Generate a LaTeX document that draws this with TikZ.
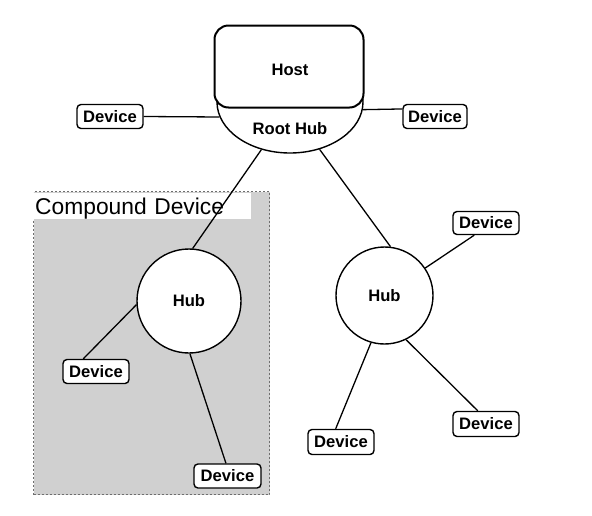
\documentclass[tikz,border=0pt]{standalone}
\usepackage{fontspec}
\setmainfont{Liberation Sans}
\usetikzlibrary{shapes.geometric}
\definecolor{regiongray}{RGB}{208,208,208}
\definecolor{borderdark}{RGB}{110,110,110}
\begin{document}
\begin{tikzpicture}[x=1pt,y=-1pt,
  devbox/.style={draw, rounded corners=4pt, line width=1.4pt, fill=white,
    minimum width=65pt, minimum height=24pt, inner sep=0pt,
    font=\fontsize{16.6}{19}\selectfont\bfseries},
  hubnode/.style={draw, circle, line width=1.4pt, fill=white, inner sep=0pt,
    font=\fontsize{16.6}{19}\selectfont\bfseries},
  txt/.style={inner sep=0pt, font=\fontsize{16.6}{19}\selectfont\bfseries},
  link/.style={line width=1.3pt}]
\useasboundingbox (0,0) rectangle (592,515);
% compound device region
\node[fill=regiongray, draw=borderdark, dash pattern=on 2pt off 2pt, line width=1pt,
  minimum width=236pt, minimum height=303pt, inner sep=0pt, anchor=north west] (compound) at (33,191) {};
\node[fill=white, anchor=north west, text height=19pt, text depth=3pt, text width=214pt, inner sep=2pt,
  font=\fontsize{22.8}{26}\selectfont] (cdlabel) at (33,193) {Compound Device};
% root hub and host
\node[ellipse, draw, fill=white, line width=1.4pt, minimum width=146pt, minimum height=102pt, inner sep=0pt] (root) at (290,102) {};
\node[txt] (roottxt) at (290,129) {Root Hub};
\node[draw, rounded corners=14pt, line width=2pt, fill=white, minimum width=149pt, minimum height=82pt, inner sep=0pt] (host) at (289,66.5) {};
\node[txt] (hosttxt) at (290,70) {Host};
% hubs
\node[hubnode, minimum size=104pt] (hubL) at (189,301) {Hub};
\node[hubnode, minimum size=97pt] (hubR) at (384.5,295.5) {Hub};
% devices
\node[devbox, minimum width=66pt] (devTL) at (110,116.5) {Device};
\node[devbox, minimum width=64pt] (devTR) at (435,116.5) {Device};
\node[devbox, minimum width=66pt, minimum height=23pt] (devR) at (486,223) {Device};
\node[devbox, minimum width=66pt] (devL) at (96,371.5) {Device};
\node[devbox, minimum width=67pt] (devB) at (227.5,476) {Device};
\node[devbox, minimum width=66pt, minimum height=25pt] (devBM) at (341,442) {Device};
\node[devbox, minimum width=66pt, minimum height=25pt] (devBR) at (486,424) {Device};
% connectors
\draw[link] (devTL.east) -- (root.192);
\draw[link] (root.354.4) -- (devTR.167.7);
\draw[link] (root.239.7) -- (hubL.86.7);
\draw[link] (root.302) -- (hubR.83);
\draw[link] (hubL.184.4) -- (devL.135);
\draw[link] (hubL.271) -- (devB.97);
\draw[link] (hubR.34) -- (devR.226);
\draw[link] (hubR.254) -- (devBM.112);
\draw[link] (hubR.296) -- (devBR.122.6);
\end{tikzpicture}
\end{document}
